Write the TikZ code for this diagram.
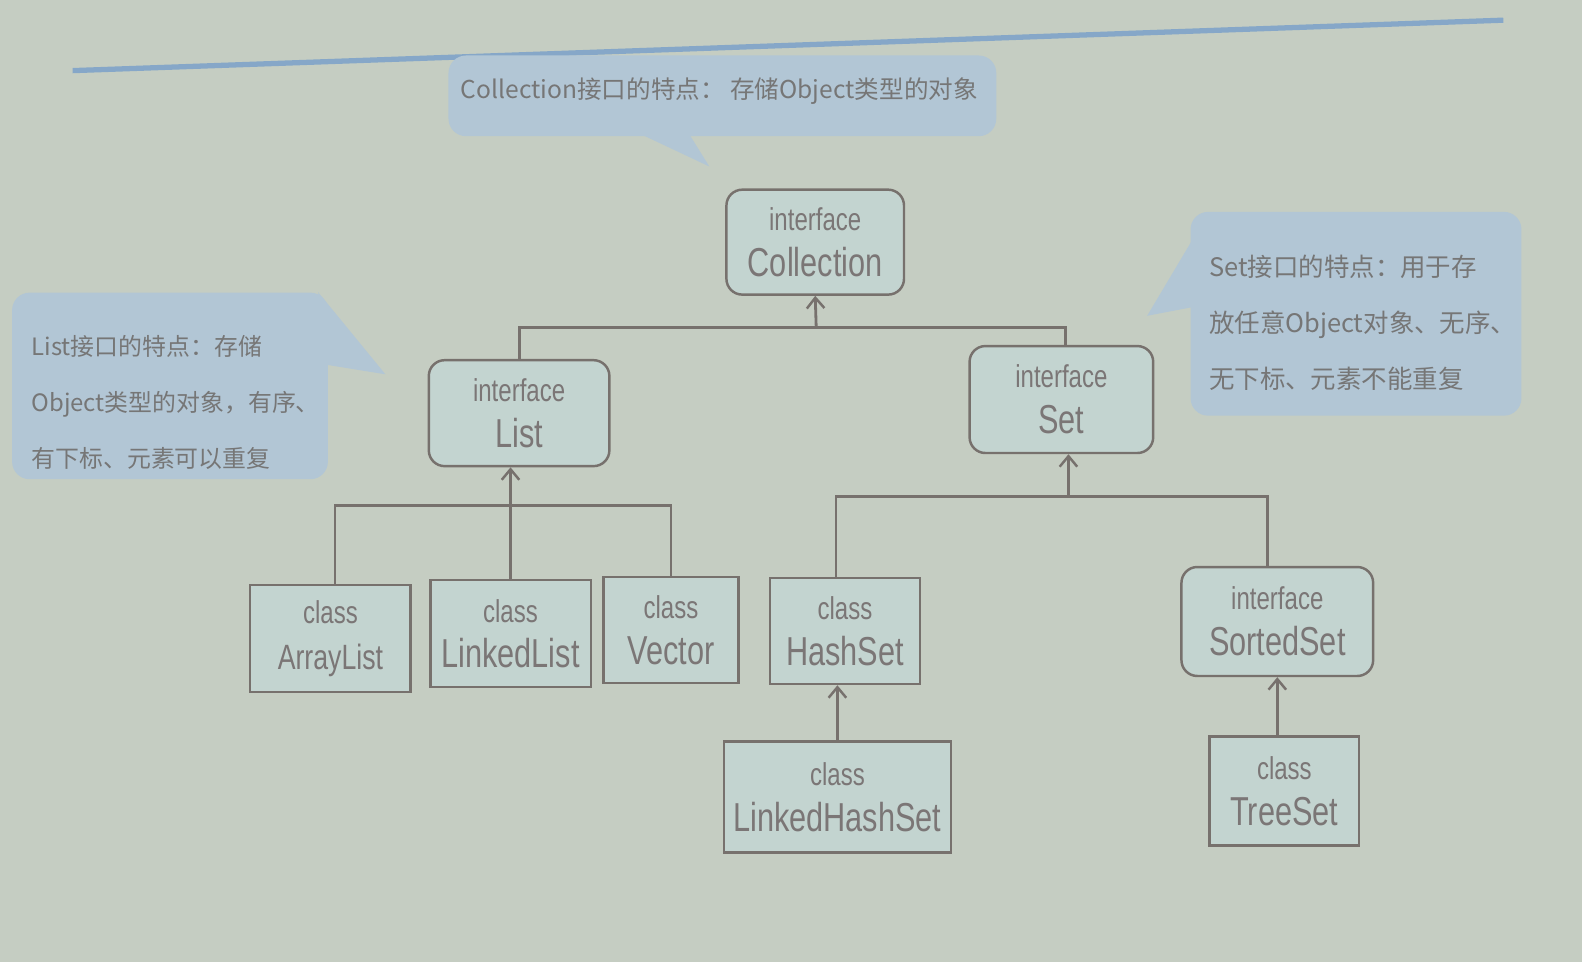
\documentclass[tikz,border=0pt]{standalone}
\usepackage{fontspec}
\setmainfont{Liberation Sans}
\newfontfamily\boxfont[FakeStretch=0.76]{Liberation Sans}
\newfontfamily\cjk{Noto Sans CJK SC}
\usetikzlibrary{arrows.meta}
\definecolor{bgc}{HTML}{C5CDC2}
\definecolor{boxc}{HTML}{C3D4D0}
\definecolor{linec}{HTML}{77716D}
\definecolor{txtc}{HTML}{7B7676}
\definecolor{callc}{HTML}{B2C6D5}
\definecolor{callt}{HTML}{767676}
\definecolor{rulec}{HTML}{86A7C8}
\newdimen\upx \upx=0.02018cm
\newcommand{\twoline}[2]{{\fontsize{18}{26}\selectfont #1}\\#2}
\begin{document}
\begin{tikzpicture}[x=0.02018cm,y=-0.02018cm,
  uml/.style={draw=linec,line width=1.4pt,fill=boxc,inner sep=0pt,align=center,text=txtc,font=\boxfont\fontsize{23}{26}\selectfont},
  iface/.style={uml,rounded corners=9pt},
  cls/.style={uml},
  conn/.style={draw=linec,line width=1.6pt},
  inh/.style={conn,-{Straight Barb[length=6pt,width=10pt,line width=1.4pt]}},
  callbox/.style={fill=callc,rounded corners=10pt,inner sep=0pt},
  calltext/.style={text=callt,align=left,font=\cjk\fontsize{14.5}{32}\selectfont,inner sep=0pt},
]
\fill[bgc] (0,0) rectangle (1568,953);
\useasboundingbox (0,0) rectangle (1568,953);
\draw[rulec,line width=3pt] (72,70) -- (1490,20);

% callouts
\node[callbox,minimum width=543\upx,minimum height=80\upx] (ccall) at (716,95) {};
\coordinate (ctip) at (703,165);
\fill[callc] ([xshift=-78\upx,yshift=1\upx]ccall.south) -- (ctip) -- ([xshift=-32\upx,yshift=1\upx]ccall.south) -- cycle;
\node[calltext,font=\cjk\fontsize{14}{20}\selectfont] (ctext) at (713,90) {Collection接口的特点：\ 存储Object类型的对象};

\node[callbox,minimum width=313\upx,minimum height=185\upx] (lcall) at (168.5,382.5) {};
\coordinate (ltip) at (382,371);
\fill[callc] ([xshift=-10\upx]lcall.north east) -- (ltip) -- ([xshift=-1\upx,yshift=-72\upx]lcall.north east) -- cycle;
\node[calltext,font=\cjk\fontsize{13.6}{32}\selectfont,anchor=west] (ltext) at (31,399) {List接口的特点：存储\\Object类型的对象，有序、\\有下标、元素可以重复};

\node[callbox,minimum width=328\upx,minimum height=202\upx] (scall) at (1344,311) {};
\coordinate (stip) at (1137,313);
\fill[callc] ([xshift=1\upx,yshift=-30\upx]scall.north west) -- (stip) -- ([xshift=1\upx,yshift=-95\upx]scall.north west) -- cycle;
\node[calltext,anchor=west] (stext) at (1198,320) {Set接口的特点：用于存\\放任意Object对象、无序、\\无下标、元素不能重复};

% boxes
\node[iface,minimum width=176\upx,minimum height=104\upx] (coll) at (808,240) {\twoline{interface}{Collection}};
\node[iface,minimum width=179\upx,minimum height=105\upx] (list) at (514.5,409.5) {\twoline{interface}{List}};
\node[iface,minimum width=182\upx,minimum height=106\upx] (set) at (1052,396) {\twoline{interface}{Set}};
\node[cls,minimum width=159\upx,minimum height=106\upx] (arr) at (327.5,633) {\twoline{class}{{\fontsize{20}{26}\selectfont ArrayList}}};
\node[cls,minimum width=159\upx,minimum height=106\upx] (lnk) at (506,628) {\twoline{class}{LinkedList}};
\node[cls,minimum width=134\upx,minimum height=105\upx] (vec) at (665,624.5) {\twoline{class}{Vector}};
\node[cls,minimum width=149\upx,minimum height=105\upx] (hash) at (837.5,625.5) {\twoline{class}{HashSet}};
\node[iface,minimum width=190\upx,minimum height=108\upx] (sorted) at (1266,616) {\twoline{interface}{SortedSet}};
\node[cls,minimum width=225\upx,minimum height=110\upx] (lhs) at (830,790) {\twoline{class}{LinkedHashSet}};
\node[cls,minimum width=148\upx,minimum height=108\upx] (tree) at (1273,784) {\twoline{class}{TreeSet}};

% connectors
\coordinate (cbar) at (809,325);
\draw[conn] (list.north) |- (cbar) -| ([xshift=4\upx]set.north);
\draw[inh] (cbar) -- (coll.south);
\coordinate (lbar) at (506,501);
\draw[conn] ([xshift=4.5\upx]arr.north) |- (lbar) -| (vec.north);
\draw[inh] (lnk.north) -- (lnk.north |- list.south);
\coordinate (sbar) at (1059,492);
\draw[conn] ([xshift=-9\upx]hash.north) |- (sbar) -| ([xshift=-10\upx]sorted.north);
\draw[inh] (sbar) -- (sbar |- set.south);
\draw[inh] (lhs.north) -- (lhs.north |- hash.south);
\draw[inh] (sorted.south |- tree.north) -- (sorted.south);
\end{tikzpicture}
\end{document}
